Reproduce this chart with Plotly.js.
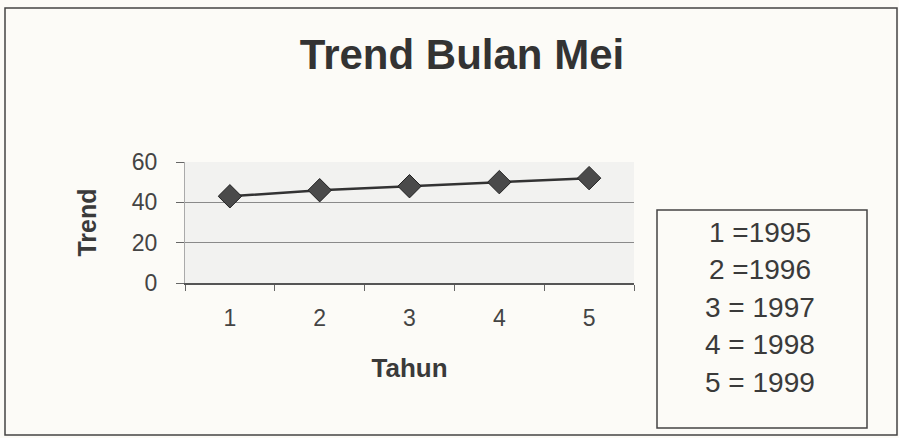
<!DOCTYPE html>
<html>
<head>
<meta charset="utf-8">
<script src="https://cdn.plot.ly/plotly-3.0.1.min.js"></script>
<style>
  html, body { margin: 0; padding: 0; background: #fcfbf7; }
  #chart { width: 899px; height: 438px; }
</style>
</head>
<body>
<div id="chart"></div>
<script>
  // Data
  const tahun = ['1', '2', '3', '4', '5'];
  const trend = [43, 46, 48, 50, 52];
  const yearLabels = ['1 =1995', '2 =1996', '3 = 1997', '4 = 1998', '5 = 1999'];

  // plot area in pixels (used to place the side box in paper coords)
  const M = { l: 185, r: 265, t: 162, b: 155 };
  const W = 899, H = 438;
  const pw = W - M.l - M.r, ph = H - M.t - M.b;
  const px = x => (x - M.l) / pw;
  const py = y => (H - M.b - y) / ph;

  const font = 'Liberation Sans, Arial, sans-serif';

  const trace = {
    x: tahun, y: trend, type: 'scatter', mode: 'lines+markers',
    line: { color: '#333', width: 2.5 },
    marker: { symbol: 'diamond', size: 18, color: '#4a4a4a', line: { color: '#222', width: 1 } },
    hoverinfo: 'x+y'
  };

  const shapes = [
    // outer frame
    { type: 'rect', xref: 'paper', yref: 'paper', x0: px(5), x1: px(897), y0: py(435), y1: py(8),
      line: { color: '#444', width: 1.5 } },
    // box with year keys
    { type: 'rect', xref: 'paper', yref: 'paper', x0: px(657), x1: px(867), y0: py(428), y1: py(210),
      line: { color: '#444', width: 1.5 } }
  ];

  const annotations = yearLabels.map((t, i) => ({
    text: t, xref: 'paper', yref: 'paper', x: px(760), y: py(232 + i * 37.5),
    xanchor: 'center', yanchor: 'middle', showarrow: false,
    font: { family: font, size: 28, color: '#3a3a3a' }
  }));

  const layout = {
    width: W, height: H,
    margin: M,
    paper_bgcolor: '#fcfbf7',
    plot_bgcolor: '#f2f2f0',
    showlegend: false,
    title: {
      text: '<b>Trend Bulan Mei</b>', xref: 'container', yref: 'container',
      x: 462 / W, y: 1 - 54 / H, xanchor: 'center', yanchor: 'middle',
      font: { family: font, size: 42, color: '#333' }
    },
    xaxis: {
      type: 'category', range: [-0.5, 4.5], tickson: 'boundaries', ticks: 'outside', ticklen: 6,
      tickcolor: '#666', showgrid: false, showline: true, linecolor: '#555', linewidth: 1.5,
      ticklabelstandoff: 14,
      tickfont: { family: font, size: 23, color: '#444' },
      title: { text: '<b>Tahun</b>', standoff: 28, font: { family: font, size: 26, color: '#3a3a3a' } },
      fixedrange: true
    },
    yaxis: {
      range: [0, 60], dtick: 20, ticks: 'outside', ticklen: 8, tickcolor: '#666',
      showgrid: true, gridcolor: '#8a8a8a', gridwidth: 1, zeroline: false,
      showline: true, linecolor: '#aaa', linewidth: 1,
      ticklabelstandoff: 14,
      tickfont: { family: font, size: 23, color: '#444' },
      title: { text: '<b>Trend</b>', standoff: 28, font: { family: font, size: 25, color: '#3a3a3a' } },
      fixedrange: true
    },
    shapes: shapes,
    annotations: annotations
  };

  Plotly.newPlot('chart', [trace], layout, { displayModeBar: false, staticPlot: true });
</script>
</body>
</html>
